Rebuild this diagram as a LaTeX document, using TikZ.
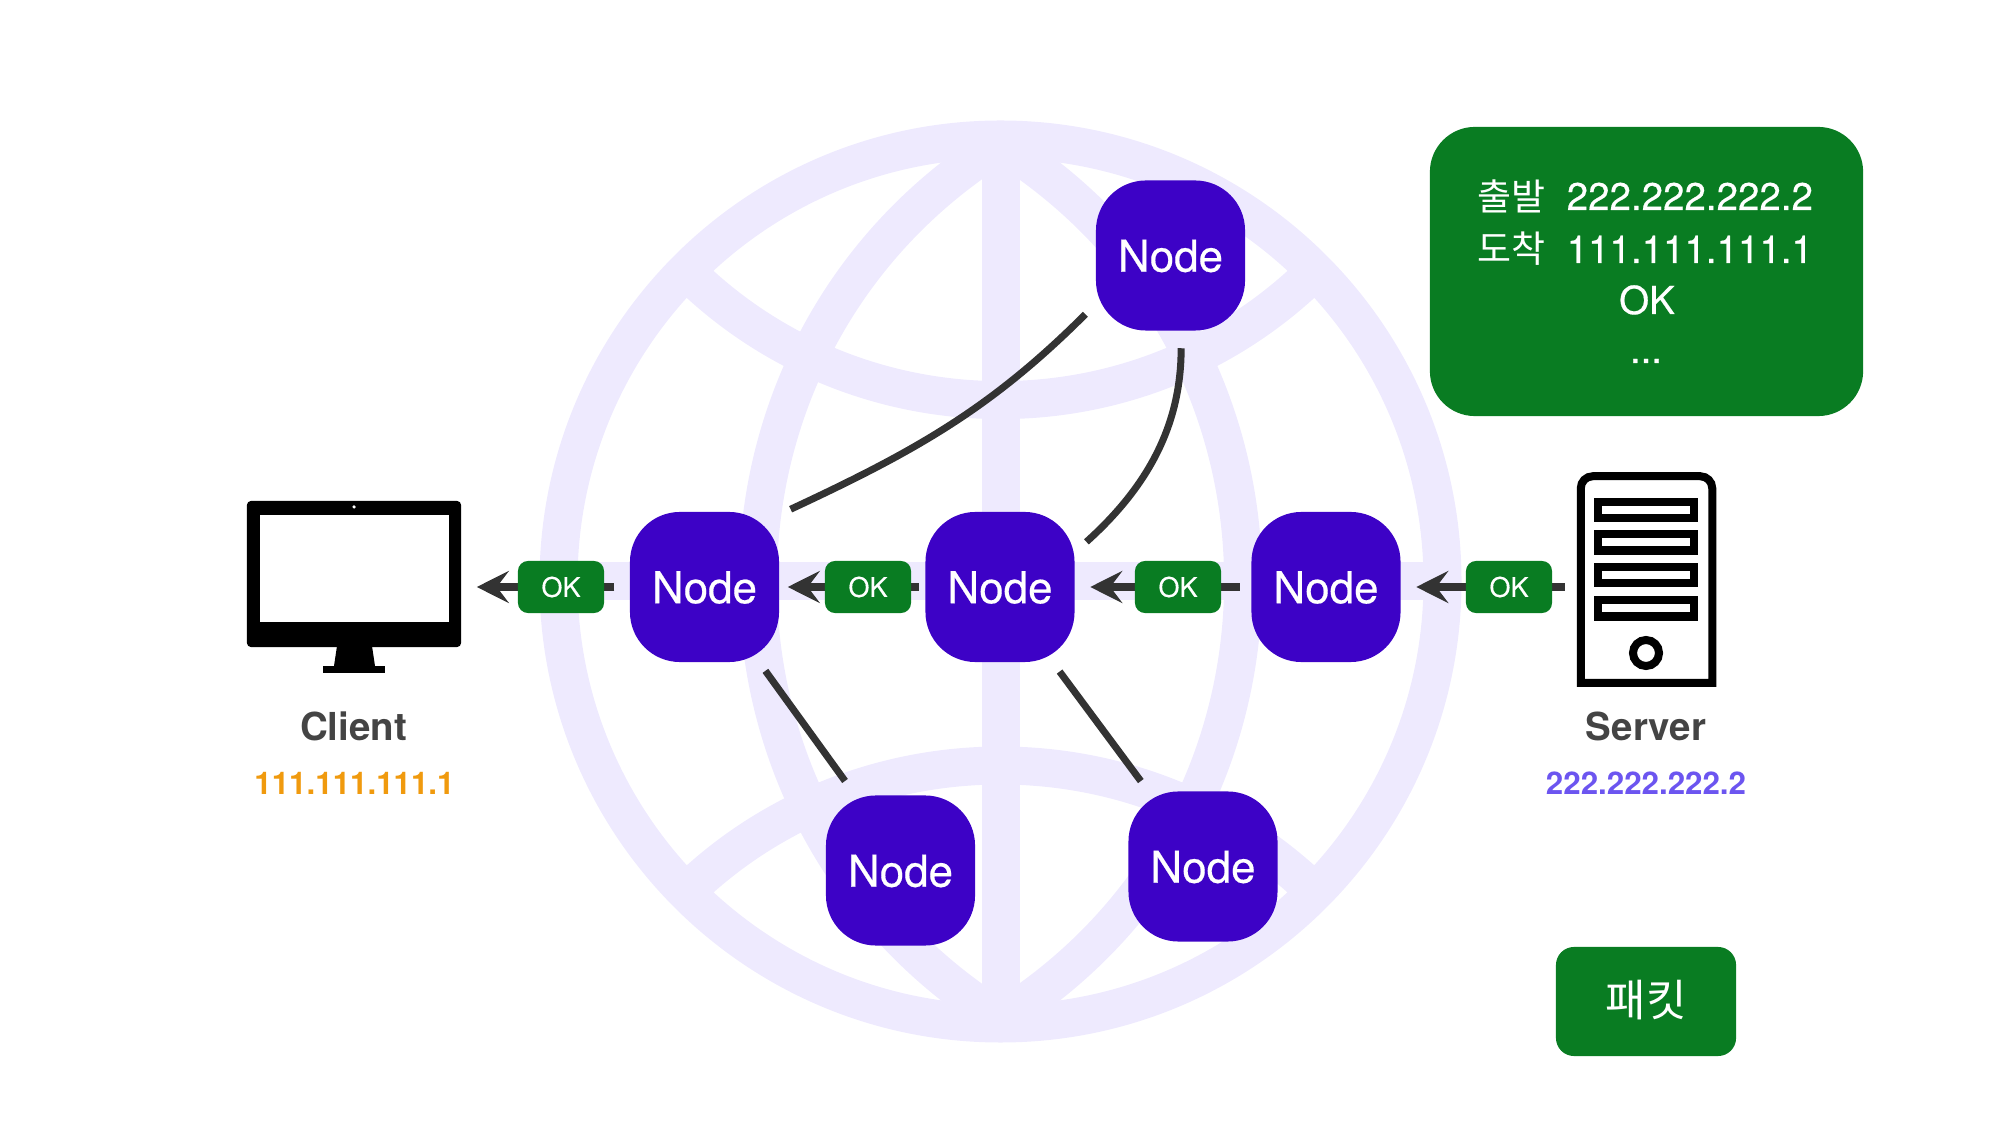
\documentclass[tikz,border=0pt]{standalone}
\usepackage{xcolor}
\usepackage{fontspec}
\setmainfont{TeX Gyre Heros}
\newfontfamily\medfont[BoldFont={TeX Gyre Heros},BoldFeatures={FakeBold=0.4}]{TeX Gyre Heros}
\newfontfamily\krfont{Noto Sans CJK KR}
\usetikzlibrary{arrows.meta}
\definecolor{globecol}{HTML}{EEEAFE}
\definecolor{nodecol}{HTML}{3D02C6}
\definecolor{okcol}{HTML}{097C22}
\definecolor{linecol}{HTML}{333333}
\definecolor{labelcol}{HTML}{444444}
\definecolor{clientcol}{HTML}{F09A0E}
\definecolor{servercol}{HTML}{6C55F0}
\begin{document}
\begin{tikzpicture}[x=0.01cm,y=0.01cm,globeline/.style={draw=globecol,line width=0.38cm}]
\tikzstyle{vtx}=[rectangle, fill=nodecol, text=white, rounded corners=0.5cm, minimum width=1.49cm, minimum height=1.5cm, inner sep=0pt, text height=9.2pt, text depth=0pt, font=\fontsize{12.5pt}{15pt}\medfont\bfseries]
\tikzstyle{okbox}=[rectangle, fill=okcol, text=white, rounded corners=0.1cm, minimum width=0.86cm, minimum height=0.52cm, inner sep=0pt, font=\fontsize{7.7pt}{9pt}\medfont\bfseries]
\tikzstyle{pkt}=[anchor=base, text=white, inner sep=0pt, font=\fontsize{10.95pt}{13pt}\medfont\bfseries]
\tikzstyle{pktkr}=[anchor=base, text=white, inner sep=0pt, font=\fontsize{10.5pt}{13pt}\selectfont\krfont]
\tikzstyle{namelbl}=[anchor=base, text=labelcol, inner sep=0pt, font=\fontsize{10.95pt}{13pt}\selectfont\bfseries]
\tikzstyle{addrlbl}=[anchor=base, inner sep=0pt, font=\fontsize{8.9pt}{10pt}\selectfont\bfseries]
\tikzstyle{slot}=[rectangle, draw=black, line width=0.08cm, minimum width=0.96cm, minimum height=0.16cm, inner sep=0pt]
\tikzstyle{okarrow}=[draw=linecol, line width=0.08cm, -{Stealth[length=0.32cm,width=0.32cm,inset=0.12cm]}]
\tikzstyle{link}=[draw=linecol, line width=0.07cm]
\useasboundingbox (0,0) rectangle (2000,1124);
% globe behind everything
\draw[globeline] (1000.5,542.5) circle (442);
\draw[globeline] (558.5,543) -- (1442.5,543);
\draw[globeline] (1000.5,984.5) -- (1000.5,100.5);
\draw[globeline] (685,854) .. controls (859,680.5) and (1142,680.5) .. (1316,854);
\draw[globeline] (685,231) .. controls (859,401) and (1142,401) .. (1316,231);
\draw[globeline] (1000.5,980) .. controls (677,778) and (677,307) .. (1000.5,105);
\draw[globeline] (1000.5,980) .. controls (1324,778) and (1324,307) .. (1000.5,105);
% monitor
\node[rectangle, fill=black, rounded corners=0.04cm, minimum width=2.14cm, minimum height=1.46cm, inner sep=0pt] (client) at (354,550){};
\node[rectangle, fill=white, minimum width=1.89cm, minimum height=1.07cm, inner sep=0pt] (clientscreen) at (354.5,555.5){};
\fill[black] (337,478) -- (372,478) -- (375,458) -- (334,458) -- cycle;
\fill[black] (323,458) rectangle (385,451);
\node[circle, fill=white, minimum size=0.035cm, inner sep=0pt] (clientcam) at (354,617){};
\node[namelbl] (clientname) at (353.5,383){Client};
\node[addrlbl, text=clientcol] (clientaddr) at (354.5,329.5){111.111.111.1};
% server box
\node[rectangle, minimum width=1.30cm, minimum height=2.05cm, inner sep=0pt] (server) at (1646.5,544.5){};
\draw[black, line width=0.08cm] (server.south west) [rounded corners=0.12cm] -- (server.north west) -- (server.north east) [sharp corners] -- (server.south east) -- cycle;
\foreach \i/\y in {1/614,2/581.5,3/549,4/515.5}{\node[slot] (slot\i) at (1646,\y){};}
\node[circle, draw=black, line width=0.08cm, minimum size=0.26cm, inner sep=0pt] (serverled) at (1646,471){};
\node[namelbl] (servername) at (1646,383){Server};
\node[addrlbl, text=servercol] (serveraddr) at (1646,329.5){222.222.222.2};
% nodes
\node[vtx] (nodeT) at (1170.5,868.5){Node};
\node[vtx] (nodeL) at (704.5,537){Node};
\node[vtx] (nodeM) at (1000,537){Node};
\node[vtx] (nodeR) at (1326,537){Node};
\node[vtx] (nodeA) at (900.5,253.5){Node};
\node[vtx] (nodeB) at (1203,257.5){Node};
% links without a packet
\draw[link, shorten <=0.14cm, shorten >=0.12cm] (nodeT.213) to[out=225,in=25] (nodeL.44);
\draw[link, shorten <=0.17cm, shorten >=0.15cm] (nodeT.278) to[out=270,in=42] (nodeM.25);
\draw[link, shorten <=0.10cm, shorten >=0.17cm] (nodeL.306) -- (nodeA.121);
\draw[link, shorten <=0.11cm, shorten >=0.12cm] (nodeM.305) -- (nodeB.126);
% packet on its way back
\foreach \i/\j/\s/\t in {nodeL/client.east/0.15/0.15,nodeM/nodeL.east/0.06/0.08,nodeR/nodeM.east/0.11/0.15}{\draw[okarrow, shorten <=\s cm, shorten >=\t cm] (\i.west) -- (\i.west -| \j);}
\draw[okarrow, shorten <=0.16cm, shorten >=0.15cm] (server.west |- nodeR.east) -- (nodeR.east);
\foreach \i/\x in {1/561,2/868,3/1178,4/1509}{\node[okbox] (ok\i) at (\x,537){OK};}
% packet contents
\node[rectangle, fill=okcol, rounded corners=0.45cm, minimum width=4.33cm, minimum height=2.89cm, inner sep=0pt] (packet) at (1646.5,852.5){};
\node[pktkr] (fromkey) at (1511,913){출발};
\node[pkt, anchor=base west] (fromval) at (1566,914){222.222.222.2};
\node[pktkr] (tokey) at (1511,861){도착};
\node[pkt, anchor=base west] (toval) at (1566,861){111.111.111.1};
\node[pkt] (pktbody) at (1647,810){OK};
\node[pkt] (pktmore) at (1646,761){...};
\node[rectangle, fill=okcol, text=white, rounded corners=0.18cm, minimum width=1.8cm, minimum height=1.09cm, inner sep=0pt, font=\fontsize{12.5pt}{15pt}\selectfont\krfont] (legend) at (1646,122.5){\raisebox{1.6pt}{패킷}};
\end{tikzpicture}
\end{document}
